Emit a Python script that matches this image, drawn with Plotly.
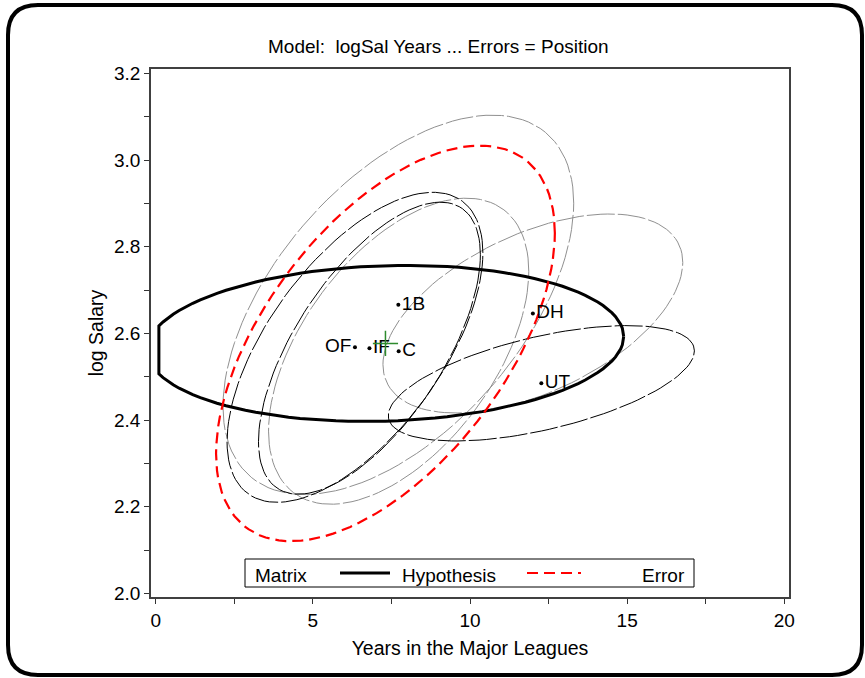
import numpy as np
import plotly.graph_objects as go

# ---------------- data ----------------
groups = ["1B", "C", "DH", "IF", "OF", "UT"]
mean_years = [7.72, 7.73, 12.00, 6.80, 6.34, 12.27]
mean_logsal = [2.666, 2.559, 2.646, 2.566, 2.568, 2.485]
label_side = ["middle right", "middle right", "middle right", "middle right", "middle left", "middle right"]

# within-group data ellipses: half-width (years), half-height (log salary), covariance term
grp_sx = [5.58, 4.14, 4.77, 3.53, 4.07, 4.87]
grp_sy = [0.4376, 0.353, 0.2295, 0.3368, 0.3576, 0.1331]
grp_sxy = [1.309, 0.763, 0.562, 0.761, 0.887, 0.364]
grp_color = ["#909090", "#909090", "#909090", "#000000", "#000000", "#000000"]

grand_mean = [7.31, 2.577]
hyp_sx, hyp_sy, hyp_sxy = 7.58, 0.180, 0.12
err_sx, err_sy, err_sxy = 5.39, 0.4563, 1.372

x_ticks = [0, 5, 10, 15, 20]
y_ticks = [2.0, 2.2, 2.4, 2.6, 2.8, 3.0, 3.2]
x_range = [-0.15, 20.15]
y_range = [1.992, 3.21]

legend_title = "Matrix"
legend_names = ["Hypothesis", "Error"]

FONT = "Liberation Sans, Arial, sans-serif"


def ellipse(cx, cy, sx, sy, sxy, n=121):
    S = np.array([[sx ** 2, sxy], [sxy, sy ** 2]])
    L = np.linalg.cholesky(S)
    t = np.linspace(0, 2 * np.pi, n)
    pts = L @ np.vstack([np.cos(t), np.sin(t)])
    return cx + pts[0], cy + pts[1]


fig = go.Figure()

# group ellipses
for i, g in enumerate(groups):
    ex, ey = ellipse(mean_years[i], mean_logsal[i], grp_sx[i], grp_sy[i], grp_sxy[i])
    fig.add_trace(go.Scatter(x=ex, y=ey, mode="lines", showlegend=False, hoverinfo="skip", name=g,
                             line=dict(color=grp_color[i], width=1, dash="28px,3px")))

# hypothesis ellipse, points outside the horizontal axis range dropped (as the source does)
hx, hy = ellipse(grand_mean[0], grand_mean[1], hyp_sx, hyp_sy, hyp_sxy)
keep = hx >= x_ticks[0]
HYP_LINE = dict(color="black", width=3)
ERR_LINE = dict(color="#ff0000", width=2.2, dash="11px,6px")
fig.add_trace(go.Scatter(x=hx[keep], y=hy[keep], mode="lines", name=legend_names[0],
                         showlegend=False, line=HYP_LINE))

# error ellipse
ex, ey = ellipse(grand_mean[0], grand_mean[1], err_sx, err_sy, err_sxy)
fig.add_trace(go.Scatter(x=ex, y=ey, mode="lines", name=legend_names[1], showlegend=False,
                         line=ERR_LINE))

# group means
fig.add_trace(go.Scatter(x=mean_years, y=mean_logsal, mode="markers+text", text=groups,
                         textposition=label_side, showlegend=False,
                         marker=dict(color="black", size=4),
                         textfont=dict(size=19, color="black")))

# grand mean
fig.add_trace(go.Scatter(x=[grand_mean[0]], y=[grand_mean[1]], mode="markers", showlegend=False,
                         marker=dict(symbol="cross-thin", size=18,
                                     line=dict(color="#2e8b2e", width=1.5))))

# ---------------- layout ----------------
L_PX, R_PX, T_PX, B_PX = 151, 76, 69, 81
W, H = 865, 678
pw, ph = W - L_PX - R_PX, H - T_PX - B_PX


def px(xp):
    return (xp - L_PX) / pw


def py(yp):
    return (H - B_PX - yp) / ph


# rounded outer border
l, t, r, b, rad = px(8), py(5), px(862), py(675), 30
rx, ry = rad / pw, rad / ph
border = (f"M {l},{t - ry} Q {l},{t} {l + rx},{t} L {r - rx},{t} Q {r},{t} {r},{t - ry} "
          f"L {r},{b + ry} Q {r},{b} {r - rx},{b} L {l + rx},{b} Q {l},{b} {l},{b + ry} Z")

shapes = [
    dict(type="path", path=border, xref="paper", yref="paper", line=dict(color="black", width=4)),
    # legend box and keys
    dict(type="rect", xref="paper", yref="paper", x0=px(245), x1=px(694), y0=py(587), y1=py(559),
         line=dict(color="black", width=1), fillcolor="white"),
    dict(type="line", xref="paper", yref="paper", x0=px(340), x1=px(390), y0=py(573), y1=py(573),
         line=HYP_LINE),
    dict(type="line", xref="paper", yref="paper", x0=px(527), x1=px(581), y0=py(573), y1=py(573),
         line=ERR_LINE),
]

annotations = [
    dict(text="Model:  logSal Years ... Errors = Position", xref="paper", yref="paper",
         x=px(438), y=py(47), xanchor="center", yanchor="middle", showarrow=False, font=dict(size=19)),
    dict(text=legend_title, xref="paper", yref="paper", x=px(253), y=py(575), xanchor="left",
         yanchor="middle", showarrow=False, font=dict(size=19)),
    dict(text=legend_names[0], xref="paper", yref="paper", x=px(400), y=py(575), xanchor="left",
         yanchor="middle", showarrow=False, font=dict(size=19)),
    dict(text=legend_names[1], xref="paper", yref="paper", x=px(640), y=py(575), xanchor="left",
         yanchor="middle", showarrow=False, font=dict(size=19)),
]

fig.update_layout(
    width=W, height=H,
    margin=dict(l=L_PX, r=R_PX, t=T_PX, b=B_PX),
    paper_bgcolor="white", plot_bgcolor="white",
    font=dict(family=FONT, size=19, color="black"),
    showlegend=False,
    shapes=shapes,
    annotations=annotations,
    xaxis=dict(range=x_range, tickvals=x_ticks, ticks="outside", ticklen=5, tickcolor="#333",
               showgrid=False, zeroline=False, showline=True, linecolor="#404040", linewidth=1.5,
               mirror=True, tickfont=dict(size=19),
               minor=dict(dtick=2.5, tick0=0, ticks="outside", ticklen=5, tickcolor="#333", showgrid=False),
               title=dict(text="Years in the Major Leagues", font=dict(size=19.5), standoff=12)),
    yaxis=dict(range=y_range, tickvals=y_ticks, tickformat=".1f", ticks="outside", ticklen=5,
               tickcolor="#333", showgrid=False, zeroline=False, showline=True, linecolor="#404040",
               linewidth=1.5, mirror=True, tickfont=dict(size=19),
               minor=dict(dtick=0.1, tick0=2.0, ticks="outside", ticklen=5, tickcolor="#333", showgrid=False),
               title=dict(text="log Salary", font=dict(size=19.5), standoff=5)),
)

fig.write_html("out.html")
